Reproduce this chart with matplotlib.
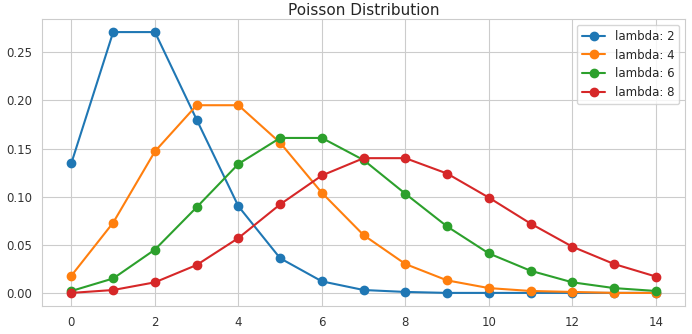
import matplotlib
matplotlib.use('Agg')
import matplotlib.pyplot as plt
import seaborn as sns

k_values = list(range(15))
lambdas = [2, 4, 6, 8]

pmf_lambda_2 = [0.135, 0.271, 0.271, 0.180, 0.090, 0.036, 0.012, 0.003, 0.001, 0.000, 0.000, 0.000, 0.000, 0.000, 0.000]
pmf_lambda_4 = [0.018, 0.073, 0.147, 0.195, 0.195, 0.156, 0.104, 0.060, 0.030, 0.013, 0.005, 0.002, 0.001, 0.000, 0.000]
pmf_lambda_6 = [0.002, 0.015, 0.045, 0.089, 0.134, 0.161, 0.161, 0.138, 0.103, 0.069, 0.041, 0.023, 0.011, 0.005, 0.002]
pmf_lambda_8 = [0.000, 0.003, 0.011, 0.029, 0.057, 0.092, 0.122, 0.140, 0.140, 0.124, 0.099, 0.072, 0.048, 0.030, 0.017]

series = [pmf_lambda_2, pmf_lambda_4, pmf_lambda_6, pmf_lambda_8]

sns.set_style('whitegrid')
fig, ax = plt.subplots(figsize=(6.92, 3.34), dpi=100)
for lam, pmf in zip(lambdas, series):
    ax.plot(k_values, pmf, marker='o', markersize=6, linewidth=1.5, label=f'lambda: {lam}')

ax.set_title('Poisson Distribution', fontsize=11, pad=3)
ax.set_xticks(range(0, 15, 2))
ax.tick_params(labelsize=8.5, colors='#333333')
ax.legend(loc='upper right', fontsize=8.5)
fig.subplots_adjust(left=0.061, right=0.99, top=0.943, bottom=0.084)
fig.savefig('out.png', dpi=100)
